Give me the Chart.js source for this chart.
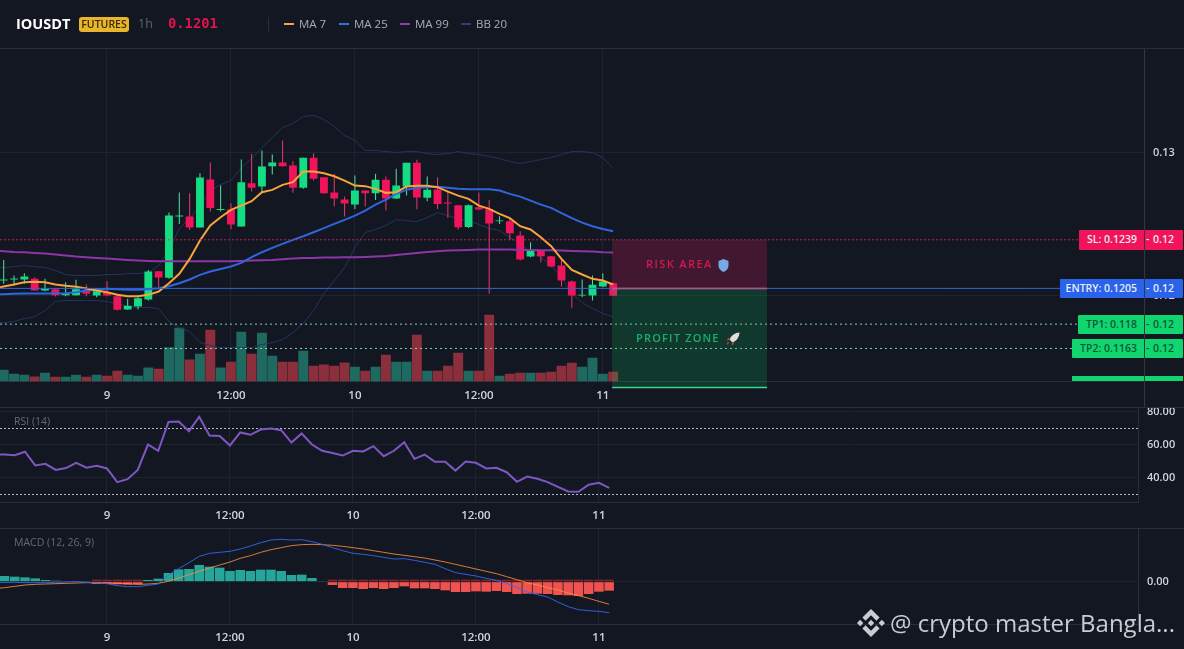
<!DOCTYPE html>
<html><head><meta charset="utf-8">
<script src="https://cdn.jsdelivr.net/npm/chart.js@4"></script>
<style>
html,body{margin:0;padding:0;background:#131722;width:1184px;height:649px;overflow:hidden;font-family:"Open Sans",sans-serif}
canvas{position:absolute;left:0}
.t{position:absolute;white-space:nowrap;line-height:1}
.hl{position:absolute;height:1px;background:#2a2e39}
.tag{position:absolute;height:19.5px;line-height:19px;font-size:10.5px;font-weight:600;right:1px;border-radius:1px;z-index:5}
.tag .a{position:absolute;right:46px}.tag .b{position:absolute;left:unset;right:9px;word-spacing:1px}
</style></head><body>
<canvas id="main" width="1184" height="407" style="top:0"></canvas>
<canvas id="rsi" width="1184" height="141" style="top:387px"></canvas>
<canvas id="macd" width="1184" height="141" style="top:508px"></canvas>

<div class="hl" style="left:0;top:48px;width:1184px"></div>
<div class="hl" style="left:0;top:407px;width:1184px"></div>
<div class="hl" style="left:0;top:528px;width:1184px"></div>

<div class="t" style="left:16px;top:17px;font-size:14.5px;font-weight:700;color:#fff">IOUSDT</div>
<div class="t" style="left:79px;top:17px;width:50px;height:15px;line-height:15px;text-align:center;background:#e8b52d;border-radius:3px;color:#3a2c05;font-size:10.5px;font-weight:600">FUTURES</div>
<div class="t" style="left:138px;top:18px;font-size:12.5px;color:#5d6472">1h</div>
<div class="t" style="left:168px;top:17px;font-size:13.8px;font-weight:700;color:#e0144f;font-family:'DejaVu Sans Mono',monospace">0.1201</div>
<div style="position:absolute;left:268px;top:17px;width:1px;height:15px;background:#2a2e39"></div>
<div id="legend"></div>

<div class="t" style="left:14px;top:416px;font-size:10.5px;color:#636a76">RSI (14)</div>
<div class="t" style="left:14px;top:537px;font-size:10.5px;color:#636a76">MACD (12, 26, 9)</div>

<div class="t" style="left:646px;top:258px;font-size:11px;font-weight:600;letter-spacing:1.4px;color:#cf1a50">RISK AREA</div>
<svg style="position:absolute;left:718px;top:259px" width="11" height="13" viewBox="0 0 11 13"><path d="M5.5 0 L10.5 2 V7 Q10 11 5.5 13 Q1 11 .5 7 V2 Z" fill="#78a8e6"/></svg>
<div class="t" style="left:636px;top:332px;font-size:11px;font-weight:600;letter-spacing:1.2px;color:#17b06c">PROFIT ZONE</div>
<svg style="position:absolute;left:726px;top:332px" width="14" height="14" viewBox="0 0 14 14"><path d="M13.5 .5 C9 .8 5.5 3 3.5 7.5 L6.5 10.5 C11 8.5 13.2 5 13.5 .5Z" fill="#e8dcd8"/><path d="M3.5 7.5 L.5 8.5 L2.5 5.5 Z M6.5 10.5 L5.5 13.5 L8.5 11.5 Z M3.2 10.8 L1 13 L1.6 9.8Z" fill="#d9434e"/></svg>

<div style="position:absolute;left:1144px;top:49px;width:1px;height:358px;background:#323743;z-index:6"></div>

<svg style="position:absolute;left:857px;top:609px;z-index:7" width="28" height="28" viewBox="0 0 126.61 126.61"><path fill="#c9ccd1" d="M38.73 53.2l24.59-24.58 24.6 24.6 14.3-14.31L63.32 0l-38.9 38.9zM0 63.31l14.3-14.31 14.31 14.31-14.31 14.3zM38.73 73.41l24.59 24.59 24.6-24.6 14.31 14.29-38.9 38.91-38.91-38.88v-.03zM98 63.31l14.3-14.31 14.31 14.3-14.31 14.32zM77.83 63.3L63.32 48.78 52.59 59.51l-1.24 1.23-2.54 2.54 14.51 14.5 14.51-14.47z"/></svg>
<div class="t" style="left:890px;top:611px;font-size:24px;color:#c9ccd1;z-index:7">@ crypto master Bangla...</div>

<script>
const xTickIdx = [10, 22, 34, 46, 58];
const xTickNames = ['9', '12:00', '10', '12:00', '11'];
const priceTicks = [0.13, 0.12];
const rsiTicks = [80, 60, 40];
const rsiBands = [70, 30];
const macdTicks = [0];

const opens = [.12105,.12112,.12112,.12117,.12035,.12044,.12002,.12002,.12040,.12000,
.12023,.11995,.11902,.11923,.11972,.12170,.12124,.12552,.12552,.12476,
.12811,.12599,.12601,.12483,.12786,.12762,.12904,.12930,.12909,.12753,
.12963,.12828,.12720,.12671,.12636,.12734,.12716,.12809,.12678,.12762,
.12928,.12683,.12741,.12650,.12632,.12480,.12618,.12604,.12520,.12520,
.12420,.12273,.12315,.12275,.12210,.12098,.12000,.12000,.12063,.12086];
const closes = [.12112,.12119,.12133,.12035,.12047,.12002,.12016,.12044,.12012,.12030,
.12000,.11900,.11928,.11981,.12168,.12126,.12559,.12559,.12476,.12825,
.12613,.12606,.12497,.12793,.12753,.12902,.12930,.12904,.12753,.12963,
.12816,.12716,.12678,.12643,.12734,.12716,.12809,.12678,.12769,.12928,
.12685,.12739,.12641,.12643,.12478,.12632,.12601,.12503,.12524,.12436,
.12252,.12315,.12275,.12203,.12105,.12000,.12005,.12075,.12098,.11998];
const highs = [.12249,.12140,.12156,.12128,.12117,.12044,.12093,.12110,.12077,.12035,
.12100,.12012,.11977,.11988,.12179,.12170,.12580,.12720,.12716,.12855,
.12930,.12769,.12646,.12951,.12991,.13014,.12986,.13084,.12939,.12963,
.12995,.12828,.12851,.12692,.12839,.12734,.12851,.12832,.12886,.12928,
.12949,.12832,.12828,.12734,.12632,.12636,.12720,.12669,.12555,.12536,
.12450,.12373,.12315,.12277,.12249,.12105,.12112,.12140,.12156,.12093];
const lows = [.12082,.12070,.12082,.12035,.12030,.11993,.11995,.12000,.11995,.11988,
.11995,.11895,.11900,.11902,.11965,.12058,.12117,.12501,.12459,.12476,
.12587,.12587,.12464,.12483,.12727,.12723,.12846,.12902,.12718,.12746,
.12804,.12711,.12622,.12552,.12606,.12622,.12669,.12594,.12676,.12699,
.12604,.12660,.12606,.12543,.12462,.12473,.12599,.12012,.12501,.12389,
.12245,.12268,.12231,.12198,.12063,.11914,.11988,.11965,.12058,.11995];
const ma7 = [.12050,.12063,.12077,.12093,.12096,.12093,.12077,.12068,.12061,.12049,.12035,
.12023,.12005,.11995,.11995,.12005,.12028,.12086,.12152,.12256,.12385,
.12490,.12548,.12599,.12629,.12660,.12723,.12739,.12774,.12793,.12867,
.12867,.12855,.12834,.12804,.12769,.12765,.12746,.12718,.12723,.12762,
.12767,.12767,.12758,.12727,.12699,.12676,.12629,.12606,.12571,.12541,
.12485,.12462,.12408,.12345,.12256,.12179,.12147,.12117,.12105,.12077];
const ma25 = [.12007,.12009,.12012,.12014,.12014,.12014,.12014,.12016,.12023,.12035,.12044,
.12047,.12044,.12040,.12040,.12044,.12051,.12065,.12086,.12112,.12145,
.12168,.12186,.12203,.12228,.12268,.12303,.12333,.12361,.12389,.12415,
.12443,.12471,.12501,.12529,.12559,.12594,.12636,.12671,.12711,.12739,
.12753,.12758,.12760,.12753,.12746,.12744,.12744,.12744,.12734,.12711,
.12692,.12664,.12636,.12613,.12576,.12541,.12510,.12485,.12466,.12450];
const ma99 = [.12312,.12310,.12305,.12303,.12298,.12294,.12287,.12280,.12273,.12268,.12263,
.12259,.12254,.12249,.12245,.12242,.12240,.12240,.12240,.12240,.12240,
.12240,.12240,.12240,.12242,.12245,.12247,.12249,.12254,.12259,.12263,
.12263,.12266,.12266,.12268,.12268,.12270,.12273,.12277,.12284,.12291,
.12298,.12305,.12310,.12315,.12317,.12319,.12322,.12322,.12322,.12322,
.12319,.12319,.12317,.12317,.12315,.12312,.12310,.12308,.12303,.12301];
const bbUpper = [.12192,.12196,.12203,.12210,.12203,.12196,.12175,.12147,.12140,.12140,.12140,
.12147,.12147,.12154,.12154,.12161,.12210,.12315,.12469,.12538,.12629,
.12734,.12776,.12804,.12895,.12958,.13035,.13105,.13175,.13203,.13252,
.13259,.13231,.13182,.13119,.13084,.13014,.13014,.13007,.13000,.13007,
.13007,.12993,.12986,.12993,.13007,.12993,.12986,.12972,.12958,.12937,
.12923,.12937,.12951,.12965,.12986,.13007,.13007,.13000,.12965,.12888];
const bbLower = [.11808,.11811,.11818,.11839,.11853,.11895,.11958,.11965,.11965,.11965,.11965,
.11958,.11944,.11923,.11916,.11916,.11909,.11818,.11776,.11748,.11671,
.11650,.11636,.11636,.11636,.11636,.11657,.11671,.11692,.11741,.11804,
.11895,.12014,.12105,.12196,.12336,.12441,.12462,.12490,.12531,.12524,
.12517,.12545,.12580,.12559,.12538,.12524,.12497,.12469,.12455,.12406,
.12364,.12301,.12266,.12210,.12126,.12014,.11951,.11909,.11874,.11853];
const volumes = [35,23,20,15,26,14,14,20,14,20,17,32,20,17,42,38,103,161,66,83,
155,42,59,149,83,146,77,59,59,92,47,51,47,57,44,32,44,80,59,59,
140,32,32,47,86,32,32,200,17,23,26,26,26,29,47,56,44,71,23,29];
const rsi = [54.2,54.2,53.8,55.9,47.6,48.6,44.9,46,49.2,46.2,47.4,45.8,37.5,39.3,44.9,60.3,56.5,74,74.2,68.4,77.1,
65.8,65.4,59.7,67.6,66.2,69.4,70,69,61.5,67,60.3,56.5,55.1,53.6,56.5,56.1,59.3,53.2,56.5,61.7,
51.6,54.2,49.8,49.8,44.5,50,49.2,45.8,46.2,43.5,37.7,40.9,39.5,37.5,34.6,31.8,31.6,35.9,37.1,34];
const macdLine = [-.00003,-.00002,-.00002,-.00003,-.00003,-.00003,-.00002,-.00001,0,-.00002,-.00004,
-.00006,-.00012,-.00015,-.00015,-.00011,-.00007,.00020,.00039,.00057,.00076,
.00085,.00088,.00091,.00098,.00107,.00117,.00125,.00127,.00125,.00126,
.00120,.00112,.00102,.00093,.00085,.00082,.00078,.00073,.00068,.00069,
.00064,.00058,.00052,.00039,.00027,.00022,.00017,.00010,.00004,-.00005,
-.00018,-.00031,-.00039,-.00046,-.00061,-.00075,-.00084,-.00087,-.00089,-.00093];
const macdSignal = [-.00021,-.00018,-.00014,-.00010,-.00008,-.00007,-.00006,-.00005,-.00004,-.00003,-.00004,
-.00004,-.00005,-.00006,-.00008,-.00007,-.00005,.00001,.00011,.00021,.00031,
.00041,.00050,.00059,.00070,.00078,.00088,.00096,.00102,.00108,.00111,
.00112,.00111,.00109,.00106,.00102,.00098,.00093,.00088,.00083,.00079,
.00075,.00071,.00065,.00059,.00052,.00045,.00038,.00031,.00024,.00015,
.00006,-.00003,-.00010,-.00018,-.00025,-.00034,-.00042,-.00050,-.00059,-.00068];
const macdHist = [.00017,.00015,.00013,.00010,.00005,.00003,.00002,.00002,.00002,-.00007,
-.00007,-.00008,-.00009,-.00008,.00005,.00009,.00026,.00037,.00038,.00050,
.00045,.00042,.00032,.00035,.00032,.00036,.00036,.00032,.00020,.00021,
.00011,.00002,-.00010,-.00019,-.00019,-.00022,-.00019,-.00022,-.00019,-.00014,
-.00020,-.00020,-.00022,-.00026,-.00031,-.00031,-.00029,-.00030,-.00028,-.00031,
-.00037,-.00036,-.00036,-.00037,-.00040,-.00041,-.00043,-.00037,-.00030,-.00027];

const slLevel = 0.1239, entryLevel = 0.1205, tp1Level = 0.118, tp2Level = 0.1163, tp3Level = 0.11357;
const tagTexts = [['SL: 0.1239', slLevel, 104, '#f0145a', '#f3e6ea'],
                  ['ENTRY: 0.1205', entryLevel, 123, '#2a62ea', '#e6ecfa'],
                  ['TP1: 0.118', tp1Level, 105, '#11d56f', '#0a5a37'],
                  ['TP2: 0.1163', tp2Level, 111, '#11d56f', '#0a5a37']];
const legendItems = [['MA 7', '#f5a742', 284], ['MA 25', '#3b6fe0', 339], ['MA 99', '#8e3fa8', 400], ['BB 20', '#2a4078', 461]];

Chart.defaults.font.family = '"Open Sans", sans-serif';
Chart.defaults.font.size = 11;
Chart.defaults.animation = false;

const GRID = '#1f2330', AXIS = '#2a2e39', TICK = '#d1d4dc';
const series = a => a.map((y, x) => ({x, y}));
// line series carry one earlier hour so they run in from the left edge
const leadSeries = a => a.map((y, x) => ({x: x - 1, y}));
const hline = (y, x0, x1) => [{x: x0, y}, {x: x1, y}];
const lineDs = (data, color, width, order, extra) => Object.assign({type: 'line', data, borderColor: color, borderWidth: width, pointRadius: 0, tension: 0, order}, extra || {});
const up = i => closes[i] >= opens[i];

function xAxis(min, max, height, pad) {
  return {
    type: 'linear', min, max, offset: false,
    afterBuildTicks: s => { s.ticks = xTickIdx.map(value => ({value})); },
    afterFit: s => { s.height = height; },
    ticks: {color: TICK, padding: pad, autoSkip: false, maxRotation: 0, font: {size: 11.5, weight: '600'},
      callback: v => xTickNames[xTickIdx.indexOf(v)]},
    grid: {color: GRID, offset: false, drawTicks: false},
    border: {color: AXIS}
  };
}
function yAxis(min, max, ticks, width, fmt, borderColor) {
  return {
    type: 'linear', position: 'right', min, max,
    afterBuildTicks: s => { s.ticks = ticks.map(value => ({value})); },
    afterFit: s => { s.width = width; },
    ticks: {color: TICK, padding: 9, font: {size: 11, weight: '600'}, callback: fmt},
    grid: {color: GRID, drawTicks: false},
    border: {color: borderColor}
  };
}
const baseOpts = top => ({
  responsive: false, animation: false,
  layout: {padding: {top, left: 0, right: 0, bottom: 0}},
  plugins: {legend: {display: false}, tooltip: {enabled: false}},
  events: []
});

// main panel
const MX0 = -0.358, MX1 = 110.39;
const mainChart = new Chart(document.getElementById('main'), {
  type: 'bar',
  data: {datasets: [
    {data: series(volumes), yAxisID: 'vol', order: 20, grouped: false, barPercentage: .96, categoryPercentage: 1,
     backgroundColor: c => up(c.dataIndex) ? '#1f6a60' : '#8a2f3b'},
    lineDs(leadSeries(bbUpper), '#25345f', 1, 19),
    lineDs(leadSeries(bbLower), '#25345f', 1, 18),
    {data: highs.map((h, i) => ({x: i, y: [lows[i], h]})), order: 17, grouped: false, barPercentage: .1, categoryPercentage: 1, inflateAmount: 0,
     backgroundColor: c => up(c.dataIndex) ? '#4fdc9e' : '#e9356f'},
    {data: opens.map((o, i) => ({x: i, y: [Math.min(o, closes[i]), Math.max(o, closes[i])]})), order: 16, grouped: false, barPercentage: .76, categoryPercentage: 1, inflateAmount: 0,
     backgroundColor: c => up(c.dataIndex) ? '#14dc82' : '#f0145a'},
    lineDs(leadSeries(ma99), '#8e35a8', 2, 15),
    lineDs(leadSeries(ma25), '#2f66dd', 2, 14),
    lineDs(leadSeries(ma7), '#f7a43c', 2, 13),
    lineDs(hline(slLevel, MX0, MX1), 'rgba(233,30,99,.8)', 1, 12, {borderDash: [2, 2]}),
    lineDs(hline(entryLevel, MX0, MX1), '#2f66dd', 1, 11),
    lineDs(hline(tp1Level, MX0, MX1), 'rgba(150,240,210,.85)', 1, 10, {borderDash: [2, 3]}),
    lineDs(hline(tp2Level, MX0, MX1), 'rgba(150,240,210,.85)', 1, 9, {borderDash: [2, 3]}),
    {data: [{x: 66.4, y: [entryLevel, slLevel]}], order: 8, grouped: false, barPercentage: 15, categoryPercentage: 1, inflateAmount: 0, backgroundColor: 'rgba(233,30,99,.22)'},
    {data: [{x: 66.4, y: [tp3Level, entryLevel]}], order: 7, grouped: false, barPercentage: 15, categoryPercentage: 1, inflateAmount: 0, clip: false, backgroundColor: 'rgba(10,210,100,.18)'},
    lineDs(hline(entryLevel, 58.9, 73.9), 'rgba(236,90,130,.55)', 2, 6),
    lineDs(hline(tp3Level, 58.9, 73.9), '#3fd690', 1.5, 5, {clip: false})
  ]},
  options: Object.assign(baseOpts(49), {scales: {
    x: xAxis(MX0, MX1, 25.5, 7),
    y: yAxis(0.11399, 0.13724, priceTicks, 40, v => v.toFixed(2), 'transparent'),
    vol: {display: false, min: 0, max: 997.5}
  }})
});

// RSI panel
const RX0 = -0.439, RX1 = 110.6;
new Chart(document.getElementById('rsi'), {
  type: 'line',
  data: {datasets: [
    lineDs(hline(rsiBands[0], RX0, RX1), 'rgba(225,228,235,.8)', 1, 3, {borderDash: [2, 2]}),
    lineDs(hline(rsiBands[1], RX0, RX1), 'rgba(225,228,235,.8)', 1, 2, {borderDash: [2, 2]}),
    lineDs(leadSeries(rsi), '#7e57c2', 2, 1)
  ]},
  options: Object.assign(baseOpts(20), {scales: {
    x: xAxis(RX0, RX1, 26, 7),
    y: yAxis(25.45, 83.03, rsiTicks, 46, v => v.toFixed(2), AXIS)
  }})
});

// MACD panel: bright bars below zero sit under a dark red cap, as on the reference
const capHeight = 0.00006;
new Chart(document.getElementById('macd'), {
  type: 'bar',
  data: {datasets: [
    {data: series(macdHist), order: 4, grouped: false, barPercentage: .93, categoryPercentage: 1, inflateAmount: 0,
     backgroundColor: c => c.raw.y >= 0 ? '#26a69a' : '#ef5350'},
    {data: macdHist.map((v, x) => ({x, y: v < 0 ? [0, capHeight] : null})), order: 3, grouped: false, barPercentage: .93, categoryPercentage: 1, inflateAmount: 0,
     backgroundColor: '#8e1f28'},
    lineDs(leadSeries(macdSignal), 'rgba(255,140,60,.85)', 1, 2),
    lineDs(leadSeries(macdLine), 'rgba(50,105,240,.9)', 1, 1)
  ]},
  options: Object.assign(baseOpts(20), {scales: {
    x: xAxis(RX0, RX1, 25, 7),
    y: yAxis(-0.00127, 0.00161, macdTicks, 46, v => v.toFixed(2), AXIS)
  }})
});

// legend + right hand price tags, placed from the chart's own scale
const legend = document.getElementById('legend');
legendItems.forEach(([name, color, x]) => {
  legend.insertAdjacentHTML('beforeend',
    `<div style="position:absolute;left:${x}px;top:23px;width:10px;height:2px;background:${color}"></div>` +
    `<div class="t" style="left:${x + 15}px;top:18px;font-size:11.5px;color:#a8adb8">${name}</div>`);
});
const py = mainChart.scales.y;
tagTexts.forEach(([label, level, w, bg, fg]) => {
  document.body.insertAdjacentHTML('beforeend',
    `<div class="tag" style="top:${py.getPixelForValue(level) - 9.5}px;width:${w}px;background:${bg};color:${fg}"><span class="a">${label}</span><span class="b">- 0.12</span></div>`);
});
document.body.insertAdjacentHTML('beforeend',
  `<div style="position:absolute;left:1072px;right:1px;top:376px;height:5px;background:#11d56f;z-index:5"></div>`);
</script>
</body></html>
